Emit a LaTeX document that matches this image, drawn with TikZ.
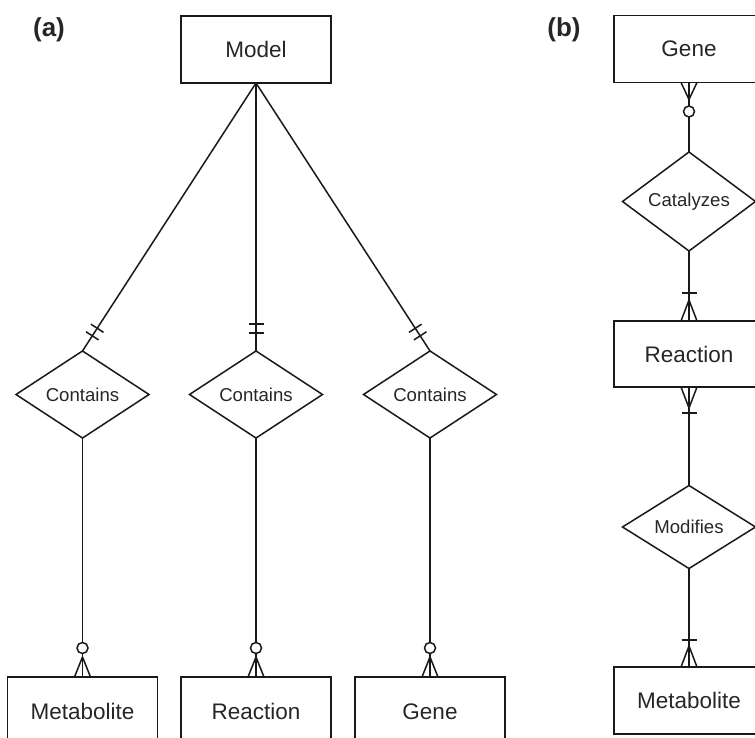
\documentclass[tikz,border=0pt]{standalone}
\usepackage{fontspec}
\setmainfont{Liberation Sans}
\usetikzlibrary{shapes.geometric,decorations.markings}

\begin{document}
\begin{tikzpicture}[x=1pt,y=-1pt,line width=1.5pt,draw=black!90,text=black!85]
\tikzset{entity/.style={draw,rectangle,minimum width=150pt,minimum height=67pt,inner sep=0pt,outer sep=0pt,font=\fontsize{22.5}{26}\selectfont},
  relation/.style={draw,diamond,minimum width=133pt,minimum height=83pt,inner sep=0pt,outer sep=0pt,font=\fontsize{18.6}{21}\selectfont},
  panel/.style={font=\bfseries\fontsize{26}{30}\selectfont},
  onebar/.style={postaction={decorate,decoration={markings,mark=at position -#1 with {\draw (0pt,-7.5pt)--(0pt,7.5pt);}}}},
  twobars/.style={onebar=18pt,onebar=27pt},
  ring/.style={postaction={decorate,decoration={markings,mark=at position -#1 with {\draw[fill=white] (0pt,0pt) circle (5.5pt);}}}},
  crowfoot/.style={postaction={decorate,decoration={markings,mark=at position -#1 with {\draw (0pt,0pt)--(#1,8pt) (0pt,0pt)--(#1,-8pt);}}}}}
\useasboundingbox (0,0) rectangle (755,738);

% (a) model contents
\node[panel] (la) at (49,30) {(a)};
\node[entity] (model) at (256,49.5) {Model};
\node[relation] (contM) at (82.5,394.5) {Contains};
\node[relation] (contR) at (256,394.5) {Contains};
\node[relation] (contG) at (430,394.5) {Contains};
\node[entity,minimum height=69pt] (met) at (82.5,711.5) {Metabolite};
\node[entity,minimum height=69pt] (rea) at (256,711.5) {Reaction};
\node[entity,minimum height=69pt] (gen) at (430,711.5) {Gene};
\foreach \r/\e in {contM/met,contR/rea,contG/gen}{
  \draw[twobars] (model.south) -- (\r.north);
  \draw[ring=29pt,crowfoot=20pt] (\r.south) -- (\e.north);
}

% (b) entity relations
\node[panel] (lb) at (564,30) {(b)};
\node[entity] (geneB) at (689,49) {Gene};
\node[relation] (cat) at (689,201.5) {Catalyzes};
\node[entity,minimum height=66pt] (reaB) at (689,354) {Reaction};
\node[relation] (mod) at (689,527) {Modifies};
\node[entity] (metB) at (689,700.5) {Metabolite};
\draw[ring=29pt,crowfoot=17pt] (cat.north) -- (geneB.south);
\draw[onebar=28pt,crowfoot=21pt] (cat.south) -- (reaB.north);
\draw[onebar=26pt,crowfoot=21pt] (mod.north) -- (reaB.south);
\draw[onebar=27pt,crowfoot=21pt] (mod.south) -- (metB.north);
\end{tikzpicture}
\end{document}
